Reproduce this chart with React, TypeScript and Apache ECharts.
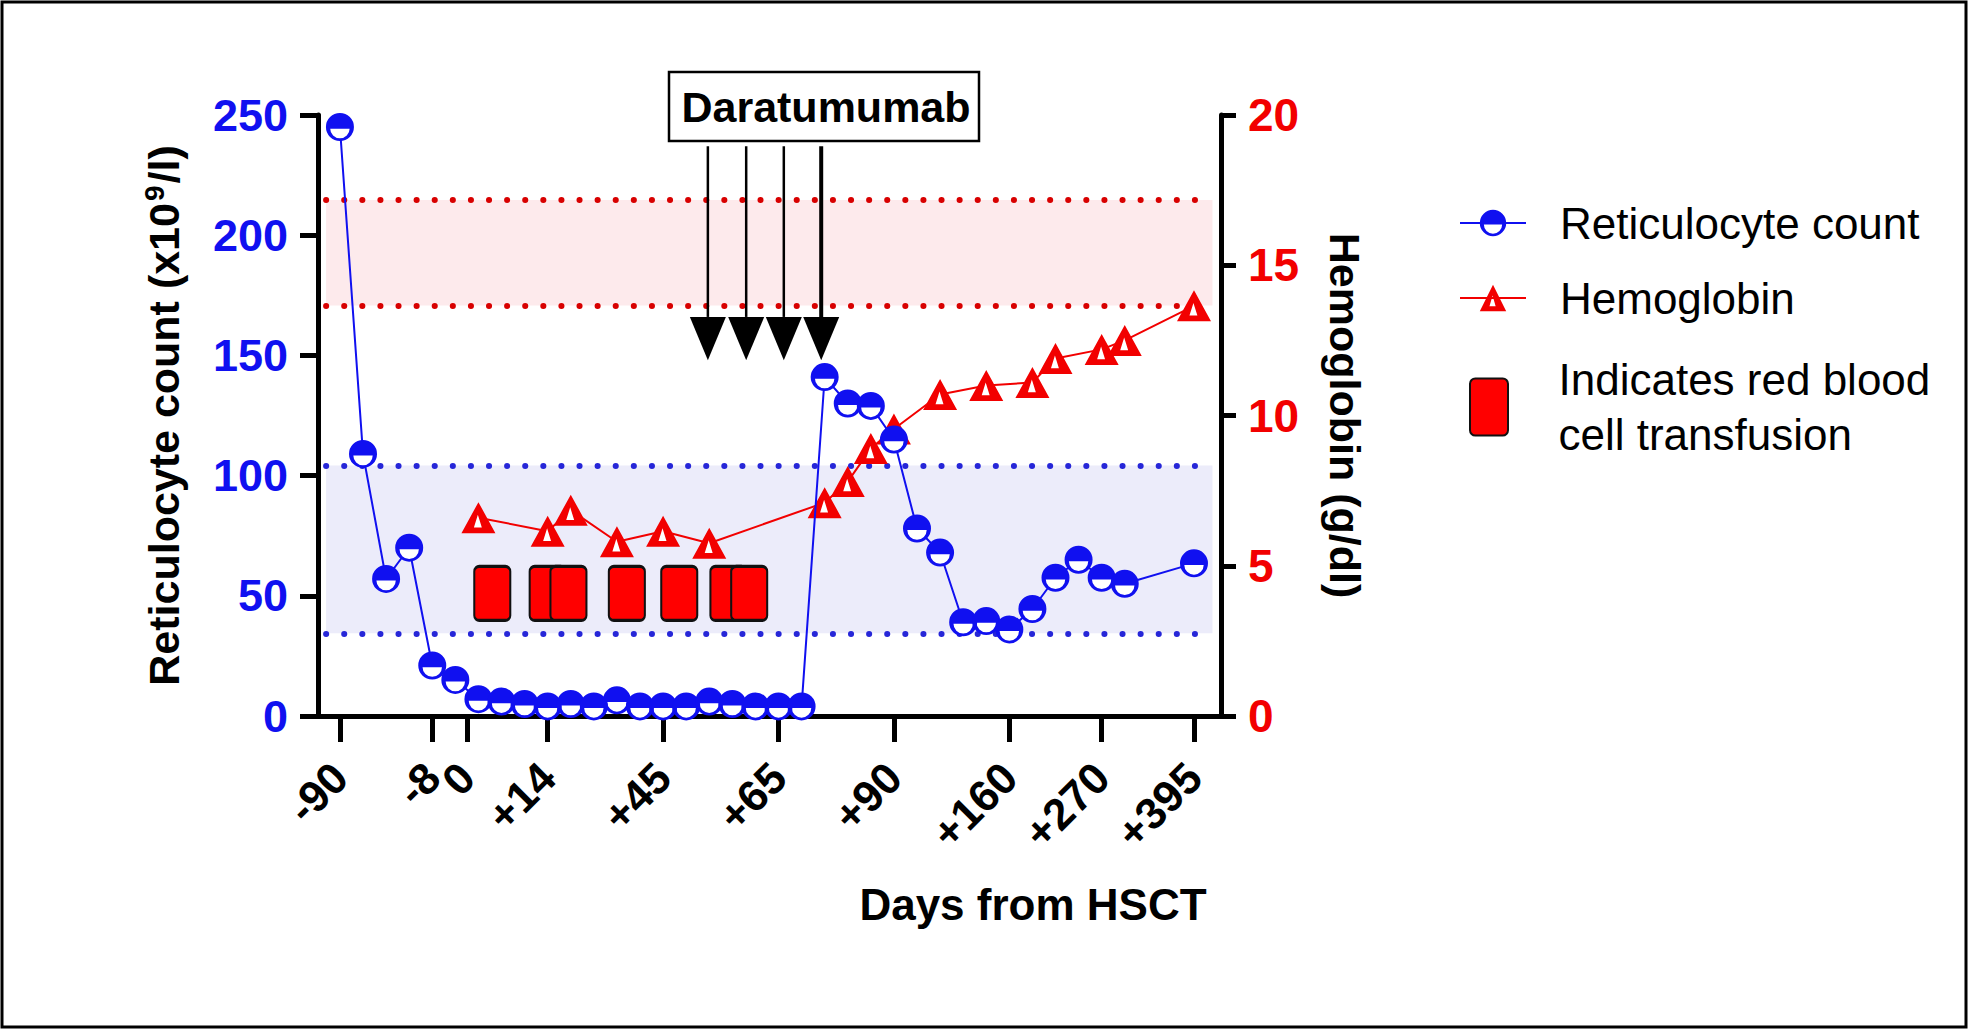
import React, { useEffect, useRef } from 'react';
import * as echarts from 'echarts';

const FONT = '"Liberation Sans", Arial, Helvetica, sans-serif';
const BLUE = '#1010f0';
const RED = '#f20000';

// x axis: positions of ticks (ordinal slots) and their labels
const xTickPositions = [0, 4, 5.5, 9, 14, 19, 24, 29, 33, 37];
const xTickLabels = ['-90', '-8', '0', '+14', '+45', '+65', '+90', '+160', '+270', '+395'];

// Reticulocyte count (x10^9/l)
const reticX = [0, 1, 2, 3, 4, 5, 6, 7, 8, 9, 10, 11, 12, 13, 14, 15, 16, 17, 18, 19, 20,
  21, 22, 23, 24, 25, 26, 27, 28, 29, 30, 31, 32, 33, 34, 37];
const reticValues = [245, 109, 57, 70, 21, 15, 7, 6, 5, 4, 5, 4, 6.5, 4, 4, 4, 6, 5, 4, 4, 4,
  141, 130, 129, 115, 78, 68, 39, 39.5, 36, 44.5, 57.5, 65, 57.5, 55, 63.5];

// Hemoglobin (g/dl)
const hbX = [6, 9, 10, 12, 14, 16, 21, 22, 23, 24, 26, 28, 30, 31, 33, 34, 37];
const hbValues = [6.6, 6.15, 6.85, 5.8, 6.15, 5.75, 7.1, 7.8, 8.9, 9.55, 10.7, 11.0, 11.1, 11.9, 12.2, 12.5, 13.65];

// Red blood cell transfusions
const transfusionX = [6.6, 9.0, 9.9, 12.43, 14.7, 16.83, 17.73];
const transfusionLevel = [51, 51, 51, 51, 51, 51, 51];

// Daratumumab administrations (arrows): x slot, line top, head base, tip (left-axis units)
const daraX = [15.94, 17.6, 19.23, 20.85];
const daraTop = [237, 237, 237, 237];
const daraHeadBase = [166, 166, 166, 166];
const daraTip = [148, 148, 148, 148];

// Normal ranges
const reticNormal = [34.4, 104.2];
const hbNormal = [13.66, 17.17];
const bandX = [-0.6, 37.8];

const HOLE_CIRCLE =
  'path://M0 13A13 13 0 1 1 26 13A13 13 0 1 1 0 13ZM4 14.5A9 9 0 0 0 22 14.5L4 14.5Z';
const HOLE_TRIANGLE = 'path://M15 0L30 27L0 27ZM14.5 11L11 22L18 22Z';
const SOLID_TRIANGLE = 'path://M15 0L30 27L0 27Z';
const BAG = 'path://M5 0H31A5 5 0 0 1 36 5V49A5 5 0 0 1 31 54H5A5 5 0 0 1 0 49V5A5 5 0 0 1 5 0Z';

const ARROW_W = [2.5, 2.5, 2.5, 4];

export default function App() {
  const ref = useRef<HTMLDivElement>(null);

  useEffect(() => {
    if (!ref.current) return;
    const chart = echarts.init(ref.current, undefined, { renderer: 'svg' });

    const reticData = reticX.map((x, i) => [x, reticValues[i]]);
    const hbData = hbX.map((x, i) => [x, hbValues[i]]);
    const tfData = transfusionX.map((x, i) => [x, transfusionLevel[i]]);
    const arrowData = daraX.map((x, i) => [x, daraTop[i], daraHeadBase[i], daraTip[i]]);

    const dotted = (color: string) => ({
      type: [0.1, 18] as any,
      cap: 'round',
      width: 6,
      color,
    });

    const option: any = {
      animation: false,
      backgroundColor: '#fff',
      textStyle: { fontFamily: FONT },
      grid: {
        left: 318,
        right: 1969 - 1221,
        top: 115,
        bottom: 1030 - 716,
        containLabel: false,
        outerBoundsMode: 'none',
      },
      legend: [
        {
          orient: 'vertical',
          left: 1454,
          top: 196,
          itemWidth: 66,
          itemHeight: 33,
          itemGap: 31,
          selectedMode: false,
          data: ['Reticulocyte count', 'Hemoglobin'],
          textStyle: {
            fontFamily: FONT,
            fontSize: 44,
            color: '#000',
            lineHeight: 44,
            padding: [0, 0, 0, 29],
          },
        },
        {
          orient: 'vertical',
          left: 1464,
          top: 347,
          itemWidth: 39,
          itemHeight: 57,
          selectedMode: false,
          data: ['Indicates red blood cell transfusion'],
          formatter: () => 'Indicates red blood\ncell transfusion',
          textStyle: {
            fontFamily: FONT,
            fontSize: 44,
            color: '#000',
            lineHeight: 55,
            padding: [0, 0, 0, 45],
          },
        },
      ],
      xAxis: {
        type: 'value',
        min: -0.95,
        max: 38.17,
        splitLine: { show: false },
        axisLine: { show: true, onZero: false, lineStyle: { color: '#000', width: 5 } },
        axisTick: {
          show: true,
          customValues: xTickPositions,
          length: 26,
          lineStyle: { color: '#000', width: 5 },
        },
        axisLabel: {
          customValues: xTickPositions,
          formatter: (v: number) => {
            const i = xTickPositions.findIndex((p) => Math.abs(p - v) < 1e-6);
            return i >= 0 ? xTickLabels[i] : '';
          },
          rotate: 45,
          margin: 54,
          align: 'right',
          verticalAlign: 'middle',
          fontSize: 44,
          fontWeight: 'bold',
          fontFamily: FONT,
          color: '#000',
        },
        name: 'Days from HSCT',
        nameLocation: 'middle',
        nameGap: 166,
        nameMoveOverlap: false,
        nameTextStyle: {
          fontSize: 44,
          fontWeight: 'bold',
          fontFamily: FONT,
          color: '#000',
          padding: [0, 0, 0, 527],
        },
      },
      yAxis: [
        {
          type: 'value',
          position: 'left',
          min: 0,
          max: 250,
          interval: 50,
          splitLine: { show: false },
          axisLine: { show: true, onZero: false, lineStyle: { color: '#000', width: 5 } },
          axisTick: { show: true, length: 18, lineStyle: { color: '#000', width: 5 } },
          axisLabel: {
            color: BLUE,
            fontSize: 45,
            fontWeight: 'bold',
            fontFamily: FONT,
            margin: 30,
          },
          name: '{a|Reticulocyte count (x10}{s|9}{a|/l)}',
          nameLocation: 'middle',
          nameRotate: 90,
          nameGap: 130,
          nameMoveOverlap: false,
          nameTextStyle: {
            rich: {
              a: { fontSize: 43, fontWeight: 'bold', fontFamily: FONT, color: '#000', lineHeight: 48 },
              s: { fontSize: 28, fontWeight: 'bold', fontFamily: FONT, color: '#000', verticalAlign: 'top', lineHeight: 48, padding: [0, 2, 18, 2] },
            },
          },
        },
        {
          type: 'value',
          position: 'right',
          min: 0,
          max: 20,
          interval: 5,
          splitLine: { show: false },
          axisLine: { show: true, onZero: false, lineStyle: { color: '#000', width: 5 } },
          axisTick: { show: true, length: 15, lineStyle: { color: '#000', width: 5 } },
          axisLabel: {
            color: RED,
            fontSize: 46,
            fontWeight: 'bold',
            fontFamily: FONT,
            margin: 27,
          },
          name: 'Hemoglobin (g/dl)',
          nameLocation: 'middle',
          nameRotate: -90,
          nameGap: 102,
          nameMoveOverlap: false,
          nameTextStyle: { fontSize: 43, fontWeight: 'bold', fontFamily: FONT, color: '#000' },
        },
      ],
      graphic: [
        {
          type: 'rect',
          shape: { x: 2, y: 2, width: 1964, height: 1025 },
          style: { fill: 'none', stroke: '#000', lineWidth: 3 },
          silent: true,
          z: 100,
        },
        {
          type: 'rect',
          shape: { x: 669, y: 72, width: 310, height: 69 },
          style: { fill: '#fff', stroke: '#000', lineWidth: 2.5 },
          silent: true,
          z: 100,
        },
        {
          type: 'text',
          x: 826,
          y: 107,
          style: {
            text: 'Daratumumab',
            fontSize: 43,
            fontWeight: 'bold',
            fontFamily: FONT,
            fill: '#000',
            align: 'center',
            verticalAlign: 'middle',
          },
          silent: true,
          z: 101,
        },
      ],
      series: [
        {
          type: 'line',
          data: [],
          yAxisIndex: 0,
          silent: true,
          markArea: {
            silent: true,
            z: 1,
            itemStyle: { color: '#ececfa' },
            label: { show: false },
            data: [[{ coord: [bandX[0], reticNormal[0]] }, { coord: [bandX[1], reticNormal[1]] }]],
          },
          markLine: {
            silent: true,
            z: 2,
            symbol: 'none',
            label: { show: false },
            lineStyle: dotted('#2626d8'),
            data: [
              [{ coord: [bandX[0], reticNormal[0]] }, { coord: [bandX[1], reticNormal[0]] }],
              [{ coord: [bandX[0], reticNormal[1]] }, { coord: [bandX[1], reticNormal[1]] }],
            ],
          },
        },
        {
          type: 'line',
          data: [],
          yAxisIndex: 1,
          silent: true,
          markArea: {
            silent: true,
            z: 1,
            itemStyle: { color: '#fdeaec' },
            label: { show: false },
            data: [[{ coord: [bandX[0], hbNormal[0]] }, { coord: [bandX[1], hbNormal[1]] }]],
          },
          markLine: {
            silent: true,
            z: 2,
            symbol: 'none',
            label: { show: false },
            lineStyle: dotted('#d80000'),
            data: [
              [{ coord: [bandX[0], hbNormal[0]] }, { coord: [bandX[1], hbNormal[0]] }],
              [{ coord: [bandX[0], hbNormal[1]] }, { coord: [bandX[1], hbNormal[1]] }],
            ],
          },
        },
        {
          type: 'scatter',
          name: 'Indicates red blood cell transfusion',
          data: tfData,
          yAxisIndex: 0,
          symbol: BAG,
          symbolSize: [36, 54],
          itemStyle: { color: '#ff0000', borderColor: '#111', borderWidth: 2.5, opacity: 1 },
          z: 3,
          silent: true,
        },
        {
          type: 'line',
          name: 'Hemoglobin',
          data: hbData,
          yAxisIndex: 1,
          showSymbol: false,
          symbol: HOLE_TRIANGLE,
          symbolSize: [34, 31],
          itemStyle: { color: RED, opacity: 1 },
          lineStyle: { color: RED, width: 2 },
          z: 4,
          silent: true,
        },
        {
          type: 'scatter',
          name: 'hb-fill',
          data: hbData,
          yAxisIndex: 1,
          symbol: SOLID_TRIANGLE,
          symbolSize: [31, 28],
          itemStyle: { color: '#fff', opacity: 1 },
          z: 4,
          silent: true,
        },
        {
          type: 'scatter',
          name: 'hb-marker',
          data: hbData,
          yAxisIndex: 1,
          symbol: HOLE_TRIANGLE,
          symbolSize: [34, 31],
          itemStyle: { color: RED, opacity: 1 },
          z: 4,
          silent: true,
        },
        {
          type: 'line',
          name: 'Reticulocyte count',
          data: reticData,
          yAxisIndex: 0,
          showSymbol: false,
          symbol: HOLE_CIRCLE,
          symbolSize: 26,
          itemStyle: { color: BLUE, opacity: 1 },
          lineStyle: { color: BLUE, width: 2 },
          z: 5,
          silent: true,
        },
        {
          type: 'scatter',
          name: 'retic-fill',
          data: reticData,
          yAxisIndex: 0,
          symbol: 'circle',
          symbolSize: 25,
          itemStyle: { color: '#fff', opacity: 1 },
          z: 6,
          silent: true,
        },
        {
          type: 'scatter',
          name: 'retic-marker',
          data: reticData,
          yAxisIndex: 0,
          symbol: HOLE_CIRCLE,
          symbolSize: 28,
          itemStyle: { color: BLUE, opacity: 1 },
          z: 7,
          silent: true,
        },
        {
          type: 'custom',
          name: 'daratumumab',
          data: arrowData,
          yAxisIndex: 0,
          z: 8,
          silent: true,
          renderItem: (params: any, api: any) => {
            const x = api.value(0);
            const top = api.coord([x, api.value(1)]);
            const base = api.coord([x, api.value(2)]);
            const tip = api.coord([x, api.value(3)]);
            const w = ARROW_W[params.dataIndex] || 2.5;
            return {
              type: 'group',
              children: [
                {
                  type: 'line',
                  shape: { x1: top[0], y1: top[1], x2: base[0], y2: base[1] },
                  style: { stroke: '#000', lineWidth: w },
                },
                {
                  type: 'polygon',
                  shape: { points: [[tip[0] - 18, base[1]], [tip[0] + 18, base[1]], [tip[0], tip[1]]] },
                  style: { fill: '#000' },
                },
              ],
            };
          },
        },
      ],
    };

    chart.setOption(option);
    return () => chart.dispose();
  }, []);

  return (
    <div
      ref={ref}
      style={{ position: 'absolute', left: 0, top: 0, width: 1969, height: 1030, background: '#fff' }}
    />
  );
}
